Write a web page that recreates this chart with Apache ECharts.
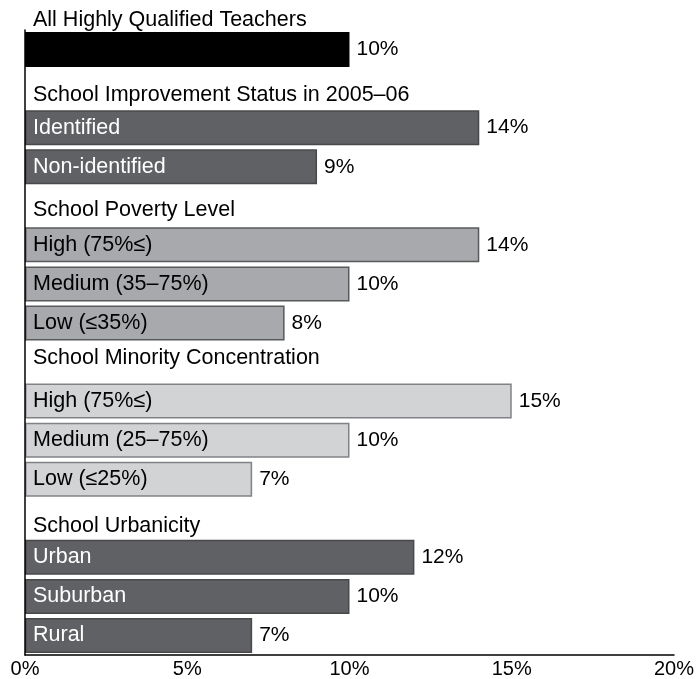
<!DOCTYPE html>
<html>
<head>
<meta charset="utf-8">
<script src="https://cdn.jsdelivr.net/npm/echarts@6/dist/echarts.min.js"></script>
<style>
html,body{margin:0;padding:0;background:#fff;}
#chart{width:697px;height:679px;}
</style>
</head>
<body>
<div id="chart"></div>
<script>
var topHeader = 'All Highly Qualified Teachers';
var categories = [
  '',
  'School Improvement Status in 2005\u201306',
  'Identified',
  'Non-identified',
  'School Poverty Level',
  'High (75%\u2264)',
  'Medium (35\u201375%)',
  'Low (\u226435%)',
  'School Minority Concentration',
  'High (75%\u2264)',
  'Medium (25\u201375%)',
  'Low (\u226425%)',
  'School Urbanicity',
  'Urban',
  'Suburban',
  'Rural'
];
var values = [10, null, 14, 9, null, 14, 10, 8, null, 15, 10, 7, null, 12, 10, 7];
// group of each row: -1 = header row
var groups = [0, -1, 1, 1, -1, 2, 2, 2, -1, 3, 3, 3, -1, 4, 4, 4];
var xTicks = [0, 5, 10, 15, 20];

var FONT = 'Liberation Sans, Arial, sans-serif';
var palette = {
  0: {fill: '#000000', border: '#000000', text: '#ffffff'},
  1: {fill: '#606164', border: '#48494b', text: '#ffffff'},
  2: {fill: '#a7a9ac', border: '#58595b', text: '#000000'},
  3: {fill: '#d1d3d4', border: '#808285', text: '#000000'},
  4: {fill: '#606164', border: '#48494b', text: '#ffffff'}
};
// vertical nudge (px) of each header label, styling only
var headerShift = {1: 6, 4: 4, 8: -4, 12: 8};

var rich = {};
Object.keys(headerShift).forEach(function (k) {
  var s = headerShift[k];
  rich['h' + k] = {
    fontSize: 21.5, fontFamily: FONT, color: '#000',
    padding: s >= 0 ? [2 * s, 0, 0, 0] : [0, 0, -2 * s, 0]
  };
});
rich.w = {fontSize: 21.5, fontFamily: FONT, color: '#ffffff'};
rich.b = {fontSize: 21.5, fontFamily: FONT, color: '#000000'};

var seriesData = values.map(function (v, i) {
  var g = groups[i];
  if (v === null) return {value: null};
  return {
    value: v,
    itemStyle: {color: palette[g].fill, borderColor: palette[g].border, borderWidth: 1.5}
  };
});

var chart = echarts.init(document.getElementById('chart'), null, {renderer: 'canvas'});
chart.setOption({
  animation: false,
  backgroundColor: '#fff',
  title: {
    text: topHeader,
    left: 28,
    top: 4,
    textStyle: {fontFamily: FONT, fontSize: 21.5, fontWeight: 'normal', color: '#000'}
  },
  grid: {left: 25, right: 16, top: 30, bottom: 23, containLabel: false},
  xAxis: {
    type: 'value',
    min: xTicks[0],
    max: xTicks[xTicks.length - 1],
    interval: xTicks[1] - xTicks[0],
    axisLine: {show: true, lineStyle: {color: '#000', width: 1.5}},
    axisTick: {show: false},
    splitLine: {show: false},
    axisLabel: {
      formatter: '{value}%',
      color: '#000',
      fontSize: 20,
      margin: 4,
      fontFamily: FONT,
      showMinLabel: true,
      showMaxLabel: true
    }
  },
  yAxis: {
    type: 'category',
    inverse: true,
    data: categories,
    axisLine: {show: true, lineStyle: {color: '#000', width: 1.5}},
    axisTick: {show: false},
    splitLine: {show: false},
    axisLabel: {
      inside: true,
      margin: 8,
      align: 'left',
      fontSize: 21.5,
      fontFamily: FONT,
      interval: 0,
      formatter: function (value, index) {
        if (!value) return '';
        var g = groups[index];
        if (g === -1) return '{h' + index + '|' + value + '}';
        return (palette[g].text === '#ffffff' ? '{w|' : '{b|') + value + '}';
      },
      rich: rich
    },
    z: 10
  },
  series: [{
    type: 'bar',
    data: seriesData,
    barWidth: 35,
    label: {
      show: true,
      position: 'right',
      distance: 7,
      color: '#000',
      fontSize: 21,
      fontFamily: FONT,
      formatter: function (p) { return p.value == null ? '' : p.value + '%'; }
    }
  }]
});
</script>
</body>
</html>
